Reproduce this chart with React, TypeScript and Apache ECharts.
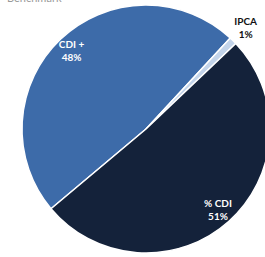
import React, { useEffect, useRef } from "react";
import * as echarts from "echarts";

const categories = ["CDI +", "IPCA", "% CDI"];
const values = [48, 1, 51];
const colors = ["#3d6ba9", "#c3d4ea", "#14223a"];
const titleText = "Benchmark";

export default function App() {
  const ref = useRef<HTMLDivElement>(null);
  useEffect(() => {
    if (!ref.current) return;
    const chart = echarts.init(ref.current, undefined, { renderer: "svg" });
    const data = categories.map((name, i) => ({
      name,
      value: values[i],
      itemStyle: { color: colors[i] },
    }));
    const center = [146, 129];
    const startAngle = 220;
    const labelFont = {
      fontFamily: "Lato, 'Open Sans', sans-serif",
      fontWeight: "bold" as const,
      fontSize: 10,
      lineHeight: 13,
    };
    chart.setOption({
      animation: false,
      title: {
        text: titleText,
        left: 2,
        top: -13,
        textStyle: { color: "#999", fontSize: 11, fontWeight: "normal", fontFamily: "Lato, sans-serif" },
      },
      series: [
        {
          type: "pie",
          center,
          radius: [0, 124],
          startAngle,
          clockwise: true,
          silent: true,
          data,
          itemStyle: { borderColor: "#ffffff", borderWidth: 1.5 },
          label: { show: false },
          labelLine: { show: false },
        },
        {
          type: "pie",
          center,
          radius: [86, 124],
          startAngle,
          clockwise: true,
          silent: true,
          data: data.map((d, i) => ({
            ...d,
            itemStyle: { color: "transparent" },
            label: { show: i !== 1 },
          })),
          label: {
            show: true,
            position: "inside",
            color: "#ffffff",
            formatter: (p: any) => `${p.name}\n${Math.round(p.value)}%`,
            ...labelFont,
          },
          labelLine: { show: false },
        },
        {
          type: "pie",
          center,
          radius: [120, 158],
          startAngle,
          clockwise: true,
          silent: true,
          data: data.map((d, i) => ({
            ...d,
            itemStyle: { color: "transparent" },
            label: { show: i === 1 },
          })),
          label: {
            show: true,
            position: "inside",
            color: "#111111",
            formatter: (p: any) => `${p.name}\n${Math.round(p.value)}%`,
            ...labelFont,
          },
          labelLine: { show: false },
        },
      ],
    });
    return () => chart.dispose();
  }, []);
  return (
    <div
      ref={ref}
      style={{ position: "fixed", left: 0, top: 0, width: 265, height: 257, background: "#fff" }}
    />
  );
}
